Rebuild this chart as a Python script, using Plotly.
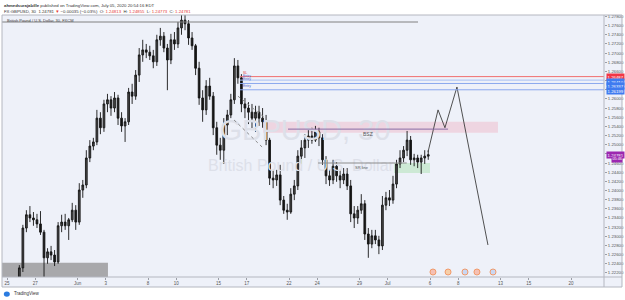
import numpy as np
import plotly.graph_objects as go

# ---------------- data ----------------
opens = [1.2205, 1.2231, 1.2318, 1.2347, 1.2340, 1.2336, 1.2327, 1.2309, 1.2253, 1.2266,
         1.2259, 1.2244, 1.2323, 1.2331, 1.2323, 1.2336, 1.2357, 1.2331, 1.2401, 1.2412,
         1.2471, 1.2497, 1.2506, 1.2558, 1.2537, 1.2589, 1.2598, 1.2580, 1.2602, 1.2558,
         1.2541, 1.2550, 1.2615, 1.2606, 1.2652, 1.2696, 1.2707, 1.2702, 1.2694, 1.2681,
         1.2729, 1.2737, 1.2711, 1.2685, 1.2729, 1.2720, 1.2755, 1.2772, 1.2764, 1.2733,
         1.2716, 1.2667, 1.2602, 1.2576, 1.2628, 1.2606, 1.2537, 1.2499, 1.2488, 1.2543,
         1.2565, 1.2598, 1.2672, 1.2646, 1.2589, 1.2580, 1.2571, 1.2558, 1.2571, 1.2558,
         1.2550, 1.2510, 1.2427, 1.2423, 1.2434, 1.2379, 1.2357, 1.2353, 1.2392, 1.2410,
         1.2475, 1.2493, 1.2510, 1.2519, 1.2510, 1.2528, 1.2515, 1.2467, 1.2432, 1.2423,
         1.2453, 1.2432, 1.2423, 1.2436, 1.2410, 1.2349, 1.2340, 1.2357, 1.2371, 1.2305,
         1.2283, 1.2301, 1.2292, 1.2279, 1.2368, 1.2384, 1.2379, 1.2414, 1.2458, 1.2471,
         1.2488, 1.2510, 1.2467, 1.2471, 1.2462, 1.2471, 1.2475]
highs = [1.2237, 1.2325, 1.2357, 1.2366, 1.2353, 1.2349, 1.2355, 1.2314, 1.2274, 1.2279,
         1.2270, 1.2331, 1.2347, 1.2349, 1.2340, 1.2373, 1.2368, 1.2416, 1.2423, 1.2488,
         1.2510, 1.2515, 1.2576, 1.2571, 1.2598, 1.2611, 1.2606, 1.2615, 1.2609, 1.2571,
         1.2558, 1.2624, 1.2633, 1.2663, 1.2711, 1.2729, 1.2720, 1.2716, 1.2707, 1.2740,
         1.2755, 1.2746, 1.2720, 1.2742, 1.2746, 1.2768, 1.2785, 1.2790, 1.2772, 1.2746,
         1.2720, 1.2681, 1.2619, 1.2641, 1.2646, 1.2615, 1.2550, 1.2515, 1.2558, 1.2576,
         1.2611, 1.2689, 1.2685, 1.2654, 1.2602, 1.2593, 1.2589, 1.2585, 1.2585, 1.2580,
         1.2565, 1.2515, 1.2445, 1.2445, 1.2456, 1.2388, 1.2371, 1.2405, 1.2423, 1.2488,
         1.2510, 1.2523, 1.2532, 1.2537, 1.2541, 1.2537, 1.2523, 1.2475, 1.2445, 1.2467,
         1.2462, 1.2445, 1.2449, 1.2449, 1.2423, 1.2366, 1.2366, 1.2392, 1.2379, 1.2318,
         1.2314, 1.2314, 1.2301, 1.2388, 1.2397, 1.2401, 1.2432, 1.2467, 1.2488, 1.2497,
         1.2530, 1.2519, 1.2480, 1.2478, 1.2478, 1.2488, 1.2488]
lows = [1.2196, 1.2222, 1.2309, 1.2331, 1.2323, 1.2318, 1.2303, 1.2209, 1.2240, 1.2248,
        1.2235, 1.2240, 1.2309, 1.2314, 1.2292, 1.2331, 1.2314, 1.2325, 1.2384, 1.2405,
        1.2462, 1.2488, 1.2499, 1.2523, 1.2528, 1.2571, 1.2563, 1.2571, 1.2543, 1.2528,
        1.2506, 1.2543, 1.2589, 1.2598, 1.2637, 1.2681, 1.2689, 1.2685, 1.2667, 1.2672,
        1.2716, 1.2702, 1.2619, 1.2676, 1.2707, 1.2711, 1.2740, 1.2750, 1.2718, 1.2707,
        1.2652, 1.2587, 1.2550, 1.2565, 1.2598, 1.2521, 1.2478, 1.2467, 1.2458, 1.2521,
        1.2558, 1.2589, 1.2633, 1.2571, 1.2558, 1.2545, 1.2532, 1.2528, 1.2541, 1.2537,
        1.2499, 1.2412, 1.2405, 1.2410, 1.2368, 1.2349, 1.2336, 1.2349, 1.2379, 1.2401,
        1.2458, 1.2471, 1.2493, 1.2502, 1.2506, 1.2497, 1.2456, 1.2414, 1.2410, 1.2414,
        1.2419, 1.2405, 1.2414, 1.2401, 1.2331, 1.2318, 1.2327, 1.2349, 1.2292, 1.2253,
        1.2274, 1.2283, 1.2261, 1.2270, 1.2357, 1.2366, 1.2371, 1.2405, 1.2449, 1.2462,
        1.2475, 1.2456, 1.2453, 1.2449, 1.2436, 1.2458, 1.2467]
closes = [1.2231, 1.2318, 1.2347, 1.2340, 1.2336, 1.2327, 1.2309, 1.2253, 1.2266, 1.2259,
          1.2244, 1.2323, 1.2331, 1.2323, 1.2336, 1.2357, 1.2331, 1.2401, 1.2412, 1.2471,
          1.2497, 1.2506, 1.2558, 1.2537, 1.2589, 1.2598, 1.2580, 1.2602, 1.2558, 1.2541,
          1.2550, 1.2615, 1.2606, 1.2652, 1.2696, 1.2707, 1.2702, 1.2694, 1.2681, 1.2729,
          1.2737, 1.2711, 1.2685, 1.2729, 1.2720, 1.2755, 1.2772, 1.2764, 1.2733, 1.2716,
          1.2667, 1.2602, 1.2576, 1.2628, 1.2606, 1.2537, 1.2499, 1.2488, 1.2543, 1.2565,
          1.2598, 1.2672, 1.2646, 1.2589, 1.2580, 1.2571, 1.2558, 1.2571, 1.2558, 1.2550,
          1.2510, 1.2427, 1.2423, 1.2434, 1.2379, 1.2357, 1.2353, 1.2392, 1.2410, 1.2475,
          1.2493, 1.2510, 1.2519, 1.2510, 1.2528, 1.2515, 1.2467, 1.2432, 1.2423, 1.2453,
          1.2432, 1.2423, 1.2436, 1.2410, 1.2349, 1.2340, 1.2357, 1.2371, 1.2305, 1.2283,
          1.2301, 1.2292, 1.2279, 1.2368, 1.2384, 1.2379, 1.2414, 1.2458, 1.2471, 1.2488,
          1.2510, 1.2467, 1.2471, 1.2462, 1.2471, 1.2475, 1.24781]

# trading-day index of each 6h bar centre (May 25 = day 0, weekends skipped)
bar_x = 0.875 + 0.25 * np.arange(len(closes))

day_ticks = [0, 2, 5, 7, 10, 12, 15, 17, 20, 22, 25, 27, 30, 32, 35, 37, 40]
day_labels = ["25", "27", "Jun", "3", "8", "10", "15", "17", "22", "24", "29", "Jul",
              "6", "8", "13", "15", "20"]
price_ticks = [1.222, 1.224, 1.226, 1.228, 1.230, 1.232, 1.234, 1.236, 1.238, 1.240,
               1.242, 1.244, 1.246, 1.248, 1.250, 1.252, 1.254, 1.256, 1.258, 1.260,
               1.262, 1.264, 1.266, 1.268, 1.270, 1.272, 1.274, 1.276, 1.278]

sl_price = 1.26487
entry_prices = [1.26410, 1.26337, 1.26199]
bsz_zone = [1.2526, 1.2550]
bsz_line = 1.2534
sr_line = 1.2460
green_zone = [1.2438, 1.2460]
proj_x = [29.86, 30.57, 31.06, 31.91, 34.11]
proj_y = [1.2484, 1.2576, 1.2537, 1.2626, 1.2281]
last_price = 1.24781

# ---------------- figure ----------------
LAV = "#eef1f9"
BORDER = "#b4b7c0"
FONT = "Liberation Sans, Arial, sans-serif"
X0, X1 = -0.355, 42.34
Y0, Y1 = 1.22111, 1.27832

fig = go.Figure()

# watermark (first trace so it is below the candles)
fig.add_trace(go.Scatter(x=[21.13, 20.85], y=[1.25255, 1.24513], mode="text",
                         text=["GBPUSD, 30", "British Pound / U.S. Dollar"],
                         textfont=dict(size=[29, 16], color="#dde0e9", family=FONT),
                         hoverinfo="skip"))

fig.add_trace(go.Candlestick(
    x=bar_x, open=opens, high=highs, low=lows, close=closes,
    increasing=dict(line=dict(color="#151515", width=0.9), fillcolor="#4a4a4a"),
    decreasing=dict(line=dict(color="#151515", width=0.9), fillcolor="#151515"),
    whiskerwidth=0, hoverinfo="skip"))

# projection path
fig.add_trace(go.Scatter(x=proj_x, y=proj_y, mode="lines",
                         line=dict(color="#3d3d3d", width=0.9), hoverinfo="skip"))

# economic-event icons
ev_x = [30.21, 31.28, 32.48, 33.33, 34.47]
fig.add_trace(go.Scatter(x=ev_x, y=[1.2222] * 5, mode="markers",
                         marker=dict(size=6, color=["#f5c0b4", "#f7cfa8", "#c9d7f3", "#f5c0b4", "#c9d7f3"],
                                     line=dict(color="#f19a6a", width=1)),
                         hoverinfo="skip"))

shapes = []
shapes.append(dict(type="rect", xref="paper", yref="paper", x0=0, x1=1.0299, y0=-0.0382, y1=1,
                   fillcolor=LAV, line=dict(width=0), layer="below"))
shapes.append(dict(type="rect", xref="x", yref="y", x0=X0, x1=7.16, y0=Y0, y1=1.2242,
                   fillcolor="#a8a8ab", line=dict(width=0), layer="below"))
shapes.append(dict(type="rect", xref="x", yref="y", x0=18.16, x1=34.82, y0=bsz_zone[0], y1=bsz_zone[1],
                   fillcolor="rgba(240,150,170,0.30)", line=dict(width=0), layer="below"))
shapes.append(dict(type="rect", xref="x", yref="y", x0=27.45, x1=30.0, y0=green_zone[0], y1=green_zone[1],
                   fillcolor="rgba(130,215,130,0.30)", line=dict(width=0), layer="below"))
shapes.append(dict(type="line", xref="x", yref="y", x0=X0, x1=29.15, y0=1.27679, y1=1.27679,
                   line=dict(color="#808080", width=1)))
shapes.append(dict(type="line", xref="x", yref="y", x0=16.52, x1=X1, y0=sl_price, y1=sl_price,
                   line=dict(color="#f07070", width=1)))
for c, p in zip(["#a9bff2", "#8aa8ee", "#8aa8ee"], entry_prices):
    shapes.append(dict(type="line", xref="x", yref="y", x0=16.52, x1=X1, y0=p, y1=p,
                       line=dict(color=c, width=1)))
shapes.append(dict(type="line", xref="x", yref="y", x0=19.93, x1=31.28, y0=bsz_line, y1=bsz_line,
                   line=dict(color="#8a6aa6", width=1)))
shapes.append(dict(type="line", xref="x", yref="y", x0=22.06, x1=28.35, y0=sr_line, y1=sr_line,
                   line=dict(color="#8c8c8c", width=1)))
shapes.append(dict(type="line", xref="x", yref="y", x0=16.38, x1=18.23, y0=1.2606, y1=1.2560,
                   line=dict(color="#8c8c8c", width=1, dash="dot")))
shapes.append(dict(type="line", xref="x", yref="y", x0=16.10, x1=18.09, y0=1.2554, y1=1.2495,
                   line=dict(color="#8c8c8c", width=1, dash="dot")))
shapes.append(dict(type="rect", xref="paper", yref="paper", x0=0, x1=1.0299, y0=-0.0382, y1=1,
                   line=dict(color=BORDER, width=1), layer="above"))
shapes.append(dict(type="line", xref="paper", yref="paper", x0=1, x1=1, y0=-0.0382, y1=1,
                   line=dict(color=BORDER, width=1)))
shapes.append(dict(type="line", xref="paper", yref="paper", x0=0, x1=1.0299, y0=0, y1=0,
                   line=dict(color=BORDER, width=1)))
shapes.append(dict(type="circle", xref="paper", yref="paper", x0=0.003, x1=0.013, y0=-0.075, y1=-0.055,
                   fillcolor="#2a7be0", line=dict(width=0)))

anns = []
def txt(x, y, s, size=4.3, color="#333", xref="paper", yref="paper", xa="left", ya="middle", **kw):
    anns.append(dict(x=x, y=y, xref=xref, yref=yref, text=s, showarrow=False, xanchor=xa, yanchor=ya,
                     font=dict(size=size, color=color, family=FONT), **kw))

RED = "#e53935"
txt(0, 1.038, "<b>ahmedsurajabille</b> published on TradingView.com, July 05, 2020 20:54:16 EDT")
txt(0, 1.0115, "FX:GBPUSD, 30  1.24781 <span style='color:%s'>▼</span> −0.00035 (−0.03%%)  "
    "O: <span style='color:%s'>1.24813</span>  H: <span style='color:%s'>1.24855</span>  "
    "L: <span style='color:%s'>1.24773</span>  C: <span style='color:%s'>1.24781</span>" % (RED, RED, RED, RED, RED))
txt(0.005, 0.979, "British Pound / U.S. Dollar, 30, FXCM", size=4.0, color="#444")
txt(0.016, -0.063, "TradingView", size=4.5, color="#333")

txt(16.6, sl_price, "SL", size=3.4, color=RED, xref="x", yref="y", ya="bottom")
for p in entry_prices:
    txt(16.6, p, "Entry", size=3.4, color="#5468c8", xref="x", yref="y", ya="bottom")
txt(25.6, bsz_line, "BSZ", size=5, color="#555", xref="x", yref="y", xa="center", ya="top")
txt(25.2, sr_line, "SR line", size=4, color="#555", xref="x", yref="y", xa="center", ya="top")

def plabel(y, s, bg):
    anns.append(dict(x=1.0033, y=y, xref="paper", yref="y", text=s, showarrow=False, xanchor="left",
                     yanchor="middle", bgcolor=bg, borderpad=0.6,
                     font=dict(size=4.3, color="white", family=FONT)))
plabel(sl_price, "1.26487", "#f23645")
plabel(1.2638, "1.26410", "#3f7bf0")
plabel(1.2628, "1.26337", "#3f7bf0")
plabel(1.2618, "1.26199", "#3f7bf0")
plabel(last_price, "1.24781", "#9c27b0")
anns.append(dict(x=1.012, y=1.24676, xref="paper", yref="y", text="05:46", showarrow=False, xanchor="left",
                 yanchor="middle", bgcolor="#9c27b0", borderpad=0.4,
                 font=dict(size=3.8, color="white", family=FONT)))

fig.update_layout(
    width=625, height=300, margin=dict(l=2, r=21, t=15, b=23),
    paper_bgcolor="white", plot_bgcolor=LAV, showlegend=False,
    shapes=shapes, annotations=anns,
    font=dict(family=FONT),
    xaxis=dict(range=[X0, X1], tickmode="array", tickvals=day_ticks, ticktext=day_labels,
               showgrid=False, zeroline=False, showline=False, rangeslider=dict(visible=False),
               ticks="outside", ticklen=2, tickcolor="#9a9da6", tickfont=dict(size=4.5, color="#555")),
    yaxis=dict(range=[Y0, Y1], side="right", tickmode="array", tickvals=price_ticks,
               ticktext=["%.5f" % v for v in price_ticks],
               showgrid=False, zeroline=False, showline=False,
               ticks="outside", ticklen=2, tickcolor="#9a9da6", tickfont=dict(size=4.3, color="#555")),
)

fig.write_html("out.html")
